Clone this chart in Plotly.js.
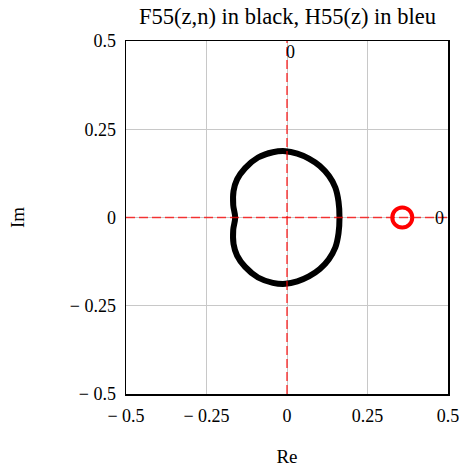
<!DOCTYPE html>
<html>
<head>
<meta charset="utf-8">
<script src="https://cdn.plot.ly/plotly-3.0.1.min.js"></script>
<style>html,body{margin:0;padding:0;background:#fff;}#chart{width:466px;height:468px;}</style>
</head>
<body>
<div id="chart"></div>
<script>
// F55(z,n) curve (black)
const f55Re = [0.163, 0.160, 0.150, 0.130, 0.102, 0.068, 0.032, -0.005, -0.044, -0.090, -0.130, -0.155, -0.166, -0.167, -0.161,
               -0.167, -0.166, -0.155, -0.130, -0.090, -0.044, -0.005, 0.032, 0.068, 0.102, 0.130, 0.150, 0.160, 0.163];
const f55Im = [0, 0.045, 0.085, 0.118, 0.146, 0.167, 0.181, 0.188, 0.185, 0.170, 0.140, 0.108, 0.075, 0.035, 0,
               -0.035, -0.075, -0.108, -0.140, -0.170, -0.185, -0.188, -0.181, -0.167, -0.146, -0.118, -0.085, -0.045, 0];
// H55(z) point (red ring)
const h55Re = [0.358];
const h55Im = [0];
// ticks
const tickVals = [-0.5, -0.25, 0, 0.25, 0.5];
const tickText = ["\u2212 0.5", "\u2212 0.25", "0", "0.25", "0.5"];

const serif = "Liberation Serif";

const traces = [
  {x: f55Re, y: f55Im, type: 'scatter', mode: 'lines',
   line: {color: '#000', width: 6, shape: 'spline', smoothing: 1.1}, hoverinfo: 'skip'},
  {x: h55Re, y: h55Im, type: 'scatter', mode: 'markers',
   marker: {symbol: 'circle-open', size: 20, color: '#ff0000', line: {color: '#ff0000', width: 4}}, hoverinfo: 'skip'}
];

const axisCommon = {
  range: [-0.5, 0.5], tickvals: tickVals, ticktext: tickText,
  showgrid: true, gridcolor: '#c8c8c8', gridwidth: 1,
  zeroline: false, showline: true, linecolor: '#000', linewidth: 1.5, mirror: true,
  ticks: 'outside', ticklen: 5, tickcolor: 'rgba(0,0,0,0)',
  tickfont: {family: serif, size: 18, color: '#000'}
};

const layout = {
  width: 466, height: 468,
  margin: {l: 126, r: 18, t: 41, b: 74},
  paper_bgcolor: '#fff', plot_bgcolor: '#fff',
  showlegend: false,
  font: {family: serif, color: '#000'},
  title: {text: 'F55(z,n) in black, H55(z) in bleu', font: {family: serif, size: 22.5, color: '#000'},
          x: 0.617, xanchor: 'center', y: 0.966, yanchor: 'middle'},
  xaxis: Object.assign({}, axisCommon, {title: {text: 'Re', font: {family: serif, size: 19, color: '#000'}, standoff: 24}}),
  yaxis: Object.assign({}, axisCommon, {title: {text: 'Im', font: {family: serif, size: 19, color: '#000'}, standoff: 40}}),
  shapes: [
    {type: 'line', xref: 'x', yref: 'y', x0: 0, x1: 0, y0: -0.5, y1: 0.5, line: {color: 'rgba(255,0,0,0.75)', width: 1.5, dash: '9px,4px'}},
    {type: 'line', xref: 'x', yref: 'y', x0: -0.5, x1: 0.5, y0: 0, y1: 0, line: {color: 'rgba(255,0,0,0.75)', width: 1.5, dash: '9px,4px'}}
  ],
  annotations: [
    {x: 0.012, y: 0.468, xref: 'x', yref: 'y', text: '0', showarrow: false, font: {family: serif, size: 18, color: '#000'}},
    {x: 0.473, y: 0, xref: 'x', yref: 'y', text: '0', showarrow: false, font: {family: serif, size: 18, color: '#000'}}
  ]
};

Plotly.newPlot('chart', traces, layout, {staticPlot: true, displayModeBar: false});
</script>
</body>
</html>
